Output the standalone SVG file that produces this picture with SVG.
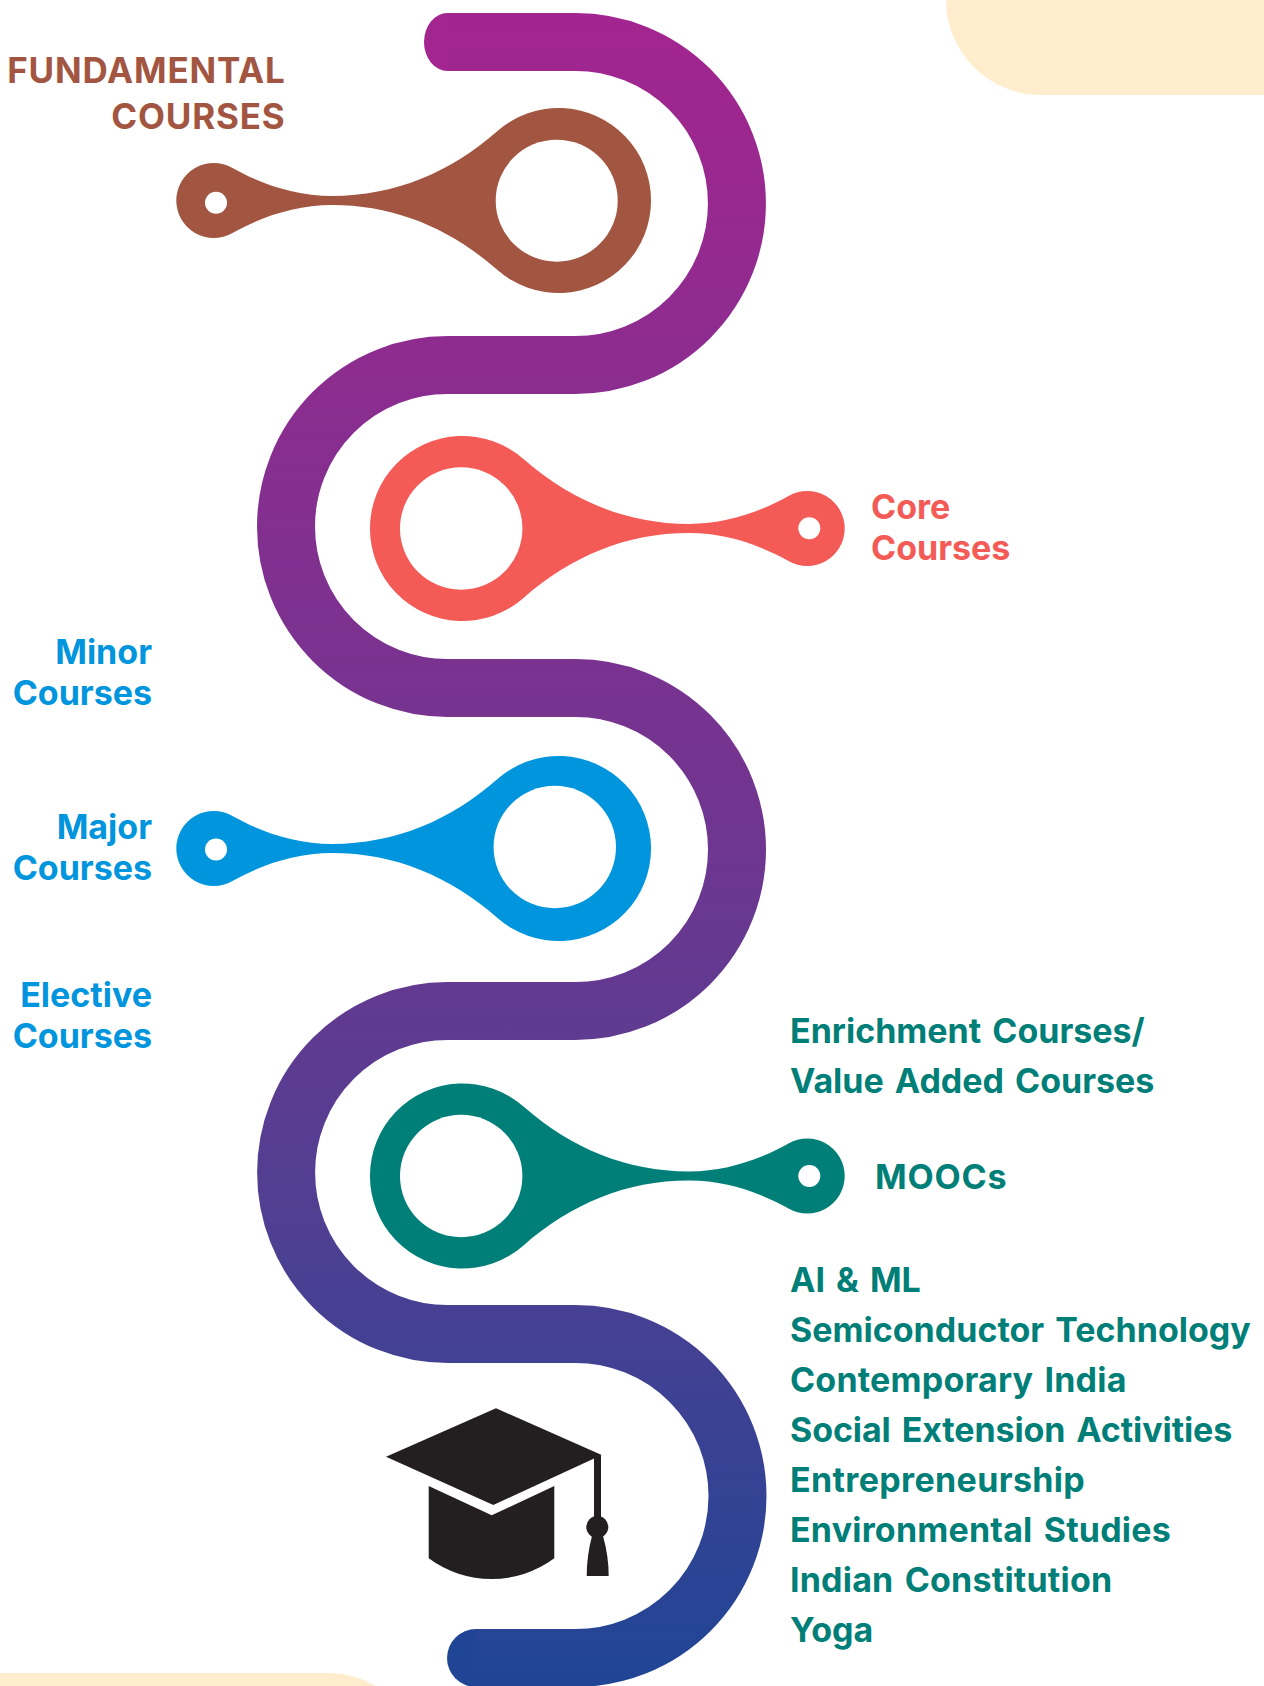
<svg xmlns="http://www.w3.org/2000/svg" xmlns:xlink="http://www.w3.org/1999/xlink" width="1264" height="1686" viewBox="0 0 1264 1686">
<style>
text{font-family:"Inter","Liberation Sans",sans-serif;font-weight:700;font-size:34px;word-spacing:3px}
.r{text-anchor:end}
.upper{font-size:35px;letter-spacing:0.8px}
.brown{fill:#A25641}.coral{fill:#F45B57}.blue{fill:#0095DD}.teal{fill:#007F78}
.cap{fill:#231F20}.hole{fill:#fff}
</style>
<defs>
<linearGradient id="g" gradientUnits="userSpaceOnUse" x1="0" y1="13" x2="0" y2="1686"><stop offset="0" stop-color="#A3258F"/><stop offset="0.5" stop-color="#6E3690"/><stop offset="0.72" stop-color="#503F92"/><stop offset="1" stop-color="#204595"/></linearGradient>
<path id="pinL" d="M232.5,-32.5 C262,-16 296,-4.6 332,-4.6 C395,-4.6 450,-28 497.5,-69.5 A92.5,92.5 0 1 1 497.5,69.5 C450,28 395,4.6 332,4.6 C296,4.6 262,16 232.5,32.5 A37.5,37.5 0 1 1 232.5,-32.5 Z"/>
<path id="pinR" d="M788.5,-32.5 C759,-16 725,-4.6 689,-4.6 C626,-4.6 571,-28 523.5,-69.5 A92.5,92.5 0 1 0 523.5,69.5 C571,28 626,4.6 689,4.6 C725,4.6 759,16 788.5,32.5 A37.5,37.5 0 1 0 788.5,-32.5 Z"/>
</defs>
<rect width="1264" height="1686" fill="#fff"/>
<g id="background">
<path d="M946,0 A95,95 0 0 0 1041,95 H1264 V0 Z" fill="#FFEDCE"/>
<path d="M0,1673 H328 Q354,1673 376,1686 H0 Z" fill="#FFEDCE"/>
</g>
<g id="connectors">
<ellipse cx="447.5" cy="42" rx="23.5" ry="29" fill="#A3258F"/>
<circle cx="476" cy="1658" r="29" fill="#204595"/>
<path d="M447,42 H575.5 A161.5,161.5 0 0 1 575.5,365 H447.5 A161.5,161.5 0 0 0 447.5,688 H575.5 A161.5,161.5 0 0 1 575.5,1011 H447.5 A161.5,161.5 0 0 0 447.5,1334 H575.5 A162,162 0 0 1 575.5,1658 H476" fill="none" stroke="url(#g)" stroke-width="58"/>
</g>
<g id="node-fundamental"><use xlink:href="#pinL" class="brown" y="200.5"/><circle class="hole" cx="556.7" cy="200.7" r="61"/><circle class="hole" cx="216" cy="202.7" r="11"/><text class="brown r upper" x="285.5" y="83">FUNDAMENTAL</text><text class="brown r upper" x="285.5" y="129">COURSES</text></g>
<g id="node-core"><use xlink:href="#pinR" class="coral" y="528.5"/><circle class="hole" cx="461.2" cy="528.5" r="61.2"/><circle class="hole" cx="809.3" cy="528.3" r="11"/><text class="coral" x="871" y="519">Core</text><text class="coral" x="871" y="560">Courses</text></g>
<g id="node-major"><use xlink:href="#pinL" class="blue" y="848.5"/><circle class="hole" cx="554.8" cy="847" r="61.2"/><circle class="hole" cx="216" cy="849.5" r="11"/><text class="blue r" x="152" y="663.5">Minor</text><text class="blue r" x="152" y="704.5">Courses</text><text class="blue r" x="152" y="838.5">Major</text><text class="blue r" x="152" y="879.5">Courses</text><text class="blue r" x="152" y="1006.5">Elective</text><text class="blue r" x="152" y="1047.5">Courses</text></g>
<g id="node-moocs"><use xlink:href="#pinR" class="teal" y="1176"/><circle class="hole" cx="461.2" cy="1176" r="61.2"/><circle class="hole" cx="809.3" cy="1176" r="11"/><text class="teal" x="875" y="1188.5" letter-spacing="0.8">MOOCs</text><text class="teal" x="790" y="1043">Enrichment Courses/</text><text class="teal" x="790" y="1092.5">Value Added Courses</text>
<text class="teal" x="790" y="1292">AI &amp; ML</text><text class="teal" x="790" y="1342">Semiconductor Technology</text><text class="teal" x="790" y="1392" letter-spacing="0.2">Contemporary India</text><text class="teal" x="790" y="1442" letter-spacing="-0.1">Social Extension Activities</text><text class="teal" x="790" y="1492" letter-spacing="0.35">Entrepreneurship</text><text class="teal" x="790" y="1542" letter-spacing="0.2">Environmental Studies</text><text class="teal" x="790" y="1592" letter-spacing="0.2">Indian Constitution</text><text class="teal" x="790" y="1642">Yoga</text></g>
<g id="graduation-cap" class="cap">
<path d="M386,1456.7 L496,1408.3 L601.7,1455 L493.3,1505 Z"/>
<path d="M428.7,1486 L491.7,1515.3 L554.3,1486 V1558.3 A105.6,105.6 0 0 1 428.7,1558.3 Z"/>
<path d="M594,1458 L601,1455 V1518 H594 Z"/>
<circle cx="597.3" cy="1527" r="11"/>
<path d="M592,1536 H603 Q608.7,1556 608.7,1576 H586.7 Q586.7,1556 592,1536 Z"/>
</g>
</svg>
